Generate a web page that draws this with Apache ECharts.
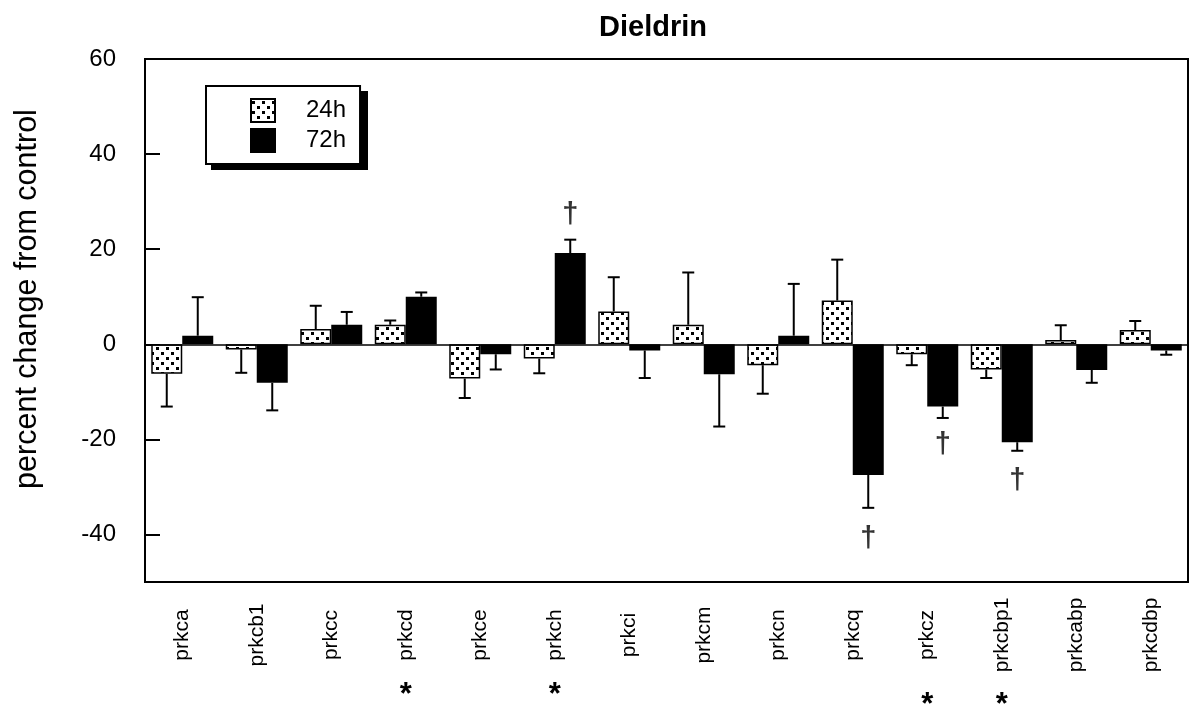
<!DOCTYPE html>
<html><head><meta charset="utf-8">
<script src="https://cdn.jsdelivr.net/npm/echarts@6/dist/echarts.min.js"></script>
<style>html,body{margin:0;padding:0;background:#fff}#c{width:1194px;height:704px}</style>
</head><body><div id="c"></div>
<script>
const categories = ['prkca','prkcb1','prkcc','prkcd','prkce','prkch','prkci','prkcm','prkcn','prkcq','prkcz','prkcbp1','prkcabp','prkcdbp'];
const v24 = [-6.2, -1.1, 3.2, 4.1, -7.2, -3.0, 6.9, 4.1, -4.4, 9.2, -2.1, -5.3, 0.9, 3.0];
const e24 = [6.9, 4.9, 4.9, 0.9, 4.1, 3.1, 7.2, 11.0, 6.0, 8.6, 2.3, 1.8, 3.1, 1.9];
const v72 = [1.8, -8.1, 4.1, 10.0, -2.1, 19.2, -1.3, -6.3, 1.8, -27.5, -13.1, -20.6, -5.4, -1.3];
const e72 = [8.1, 5.8, 2.7, 0.9, 3.2, 2.8, 5.8, 11.0, 10.9, 6.9, 2.4, 1.8, 2.7, 0.9];
const yTicks = [-40, -20, 0, 20, 40, 60];
const daggers72 = [null, null, null, null, null, 27.1, null, null, null, -40.9, -21.1, -28.7, null, null];
const starsRow1 = ['', '', '', '*', '', '*', '', '', '', '', '', '', '', ''];
const starsRow2 = ['', '', '', '', '', '', '', '', '', '', '*', '*', '', ''];

const FONT = "'Liberation Sans', Arial, Helvetica, sans-serif";
const BAR_W = 31;

function makePattern() {
  const c = document.createElement('canvas');
  c.width = 10; c.height = 10;
  const g = c.getContext('2d');
  g.fillStyle = '#fff'; g.fillRect(0, 0, 10, 10);
  g.fillStyle = '#000';
  g.fillRect(1, 2, 3, 3);
  g.fillRect(6, 7, 3, 3);
  return c;
}
const pattern = { image: makePattern(), repeat: 'repeat' };

function errRender(offset) {
  return function (params, api) {
    const i = api.value(0), v = api.value(1), e = api.value(2);
    const end = v + (v >= 0 ? 1 : -1) * e;
    const p0 = api.coord([i, v]);
    const p1 = api.coord([i, end]);
    const x = p0[0] + offset;
    return {
      type: 'group',
      children: [
        { type: 'line', shape: { x1: x, y1: p0[1], x2: x, y2: p1[1] }, style: { stroke: '#000', lineWidth: 2 } },
        { type: 'line', shape: { x1: x - 6, y1: p1[1], x2: x + 6, y2: p1[1] }, style: { stroke: '#000', lineWidth: 2 } }
      ]
    };
  };
}

const chart = echarts.init(document.getElementById('c'), null, { renderer: 'canvas' });
const starAxis = (row, margin) => ({
  type: 'category', data: categories, position: 'bottom',
  axisLine: { show: false }, axisTick: { show: false }, splitLine: { show: false },
  axisLabel: { interval: 0, margin: margin, verticalAlign: 'middle', formatter: (v, i) => row[i], fontSize: 31, fontWeight: 'bold', color: '#000', fontFamily: FONT }
});

chart.setOption({
  animation: false,
  backgroundColor: '#fff',
  textStyle: { fontFamily: FONT },
  title: {
    text: 'Dieldrin', left: 648, top: 8, textAlign: 'center',
    textStyle: { fontSize: 29, fontWeight: 'bold', color: '#000', fontFamily: FONT }
  },
  graphic: [
    { type: 'rect', left: 211, top: 91, z: 0, shape: { width: 157, height: 79 }, style: { fill: '#000' } }
  ],
  legend: {
    data: ['24h', '72h'], orient: 'vertical', left: 206, top: 86, z: 10,
    icon: 'rect', itemWidth: 24, itemHeight: 23, itemGap: 5,
    padding: [12, 14, 11, 44],
    backgroundColor: '#fff', borderColor: '#000', borderWidth: 2, borderRadius: 0,
    selectedMode: false,
    textStyle: { fontSize: 24, color: '#000', fontFamily: FONT, padding: [0, 0, 0, 26] }
  },
  grid: { left: 145, right: 6, top: 59, bottom: 122, show: true, borderColor: '#000', borderWidth: 2, backgroundColor: 'transparent', containLabel: false, outerBoundsMode: 'none' },
  xAxis: [
    {
      type: 'category', data: categories, position: 'bottom',
      axisLine: { onZero: false, lineStyle: { color: '#000', width: 2 } },
      axisTick: { show: false }, splitLine: { show: false },
      axisLabel: { interval: 0, rotate: 90, align: 'center', verticalAlign: 'middle', margin: 53, fontSize: 21, color: '#000', fontFamily: FONT }
    },
    starAxis(starsRow1, 113),
    starAxis(starsRow2, 123)
  ],
  yAxis: {
    type: 'value', min: -50, max: 60,
    name: 'percent change from control', nameLocation: 'middle', nameGap: 102, nameRotate: 90,
    nameTextStyle: { fontSize: 30.5, color: '#000', fontFamily: FONT, padding: [0, 0, 0, 43] },
    axisLine: { show: true, lineStyle: { color: '#000', width: 2 } },
    axisTick: { show: true, inside: true, length: 15, customValues: yTicks, lineStyle: { color: '#000', width: 2 } },
    axisLabel: { customValues: yTicks, margin: 29, fontSize: 24, color: '#000', fontFamily: FONT },
    splitLine: { show: false }
  },
  series: [
    {
      name: '24h', type: 'bar', data: v24, barWidth: BAR_W, barGap: '0%',
      itemStyle: { color: pattern, borderColor: '#000', borderWidth: 1.5 }
    },
    {
      name: '72h', type: 'bar', data: v72, barWidth: BAR_W, barGap: '0%',
      itemStyle: { color: '#000', borderColor: '#000', borderWidth: 1.5 },
      markLine: {
        silent: true, symbol: ['none', 'none'], label: { show: false },
        lineStyle: { color: '#000', width: 1.5, type: 'solid' },
        data: [{ yAxis: 0 }]
      }
    },
    {
      name: 'err24', type: 'custom', renderItem: errRender(-BAR_W / 2), z: 5,
      encode: { x: 0, y: 1 },
      data: categories.map((c, i) => [i, v24[i], e24[i]])
    },
    {
      name: 'err72', type: 'custom', renderItem: errRender(BAR_W / 2), z: 5,
      encode: { x: 0, y: 1 },
      data: categories.map((c, i) => [i, v72[i], e72[i]])
    },
    {
      name: 'dagger', type: 'scatter', symbolSize: 1, z: 6,
      itemStyle: { color: 'rgba(0,0,0,0)' },
      label: { show: true, position: 'inside', offset: [BAR_W / 2, 0], formatter: '\u2020', fontSize: 29, fontWeight: 'bold', color: '#000', fontFamily: FONT },
      data: categories.map((c, i) => [i, daggers72[i]]).filter(d => d[1] !== null)
    }
  ]
});
</script>
</body></html>
